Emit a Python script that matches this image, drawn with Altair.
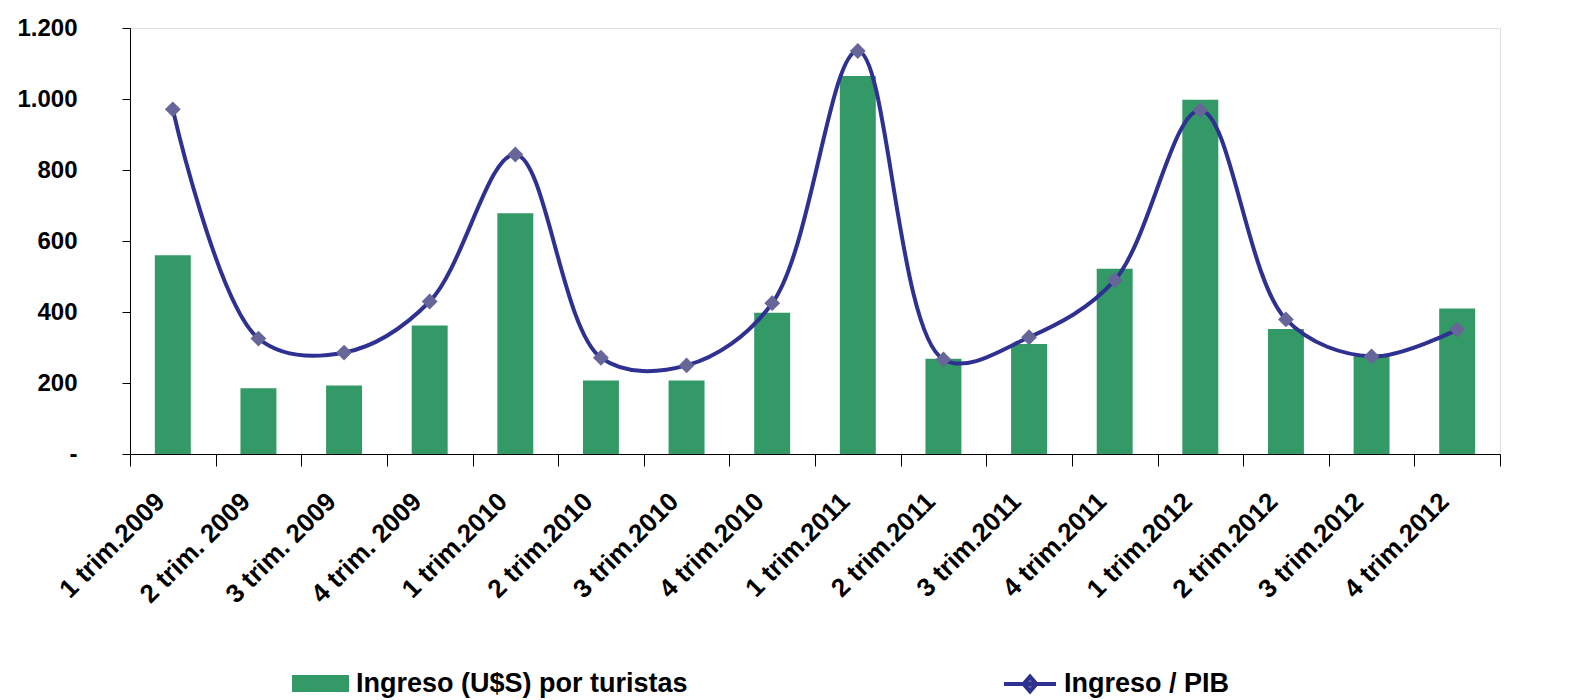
import altair as alt
import pandas as pd

categorias = ["1 trim.2009", "2 trim. 2009", "3 trim. 2009", "4 trim. 2009",
              "1 trim.2010", "2 trim.2010", "3 trim.2010", "4 trim.2010",
              "1 trim.2011", "2 trim.2011", "3 trim.2011", "4 trim.2011",
              "1 trim.2012", "2 trim.2012", "3 trim.2012", "4 trim.2012"]
ingreso = [560, 185, 193, 362, 678, 207, 207, 398, 1065, 268, 310, 522, 998, 352, 280, 410]
ingreso_pib_pct = [8.09, 2.71, 2.38, 3.58, 7.03, 2.26, 2.08, 3.54, 9.46, 2.22, 2.74, 4.08, 8.07, 3.16, 2.29, 2.92]
serie_barras = "Ingreso (U$S) por turistas"
serie_linea = "Ingreso / PIB"

df = pd.DataFrame({
    "cat": categorias,
    "ingreso": ingreso,
    "pib": [v / 100 for v in ingreso_pib_pct],
    "s1": serie_barras,
    "s2": serie_linea,
})

FONT = "Liberation Sans"

xenc = alt.X("cat:N", sort=categorias,
             scale=alt.Scale(paddingInner=0, paddingOuter=0),
             axis=alt.Axis(title=None, labelAngle=-45, labelFontSize=26, labelFontWeight="bold",
                           labelColor="black", tickBand="extent", labelPadding=22, labelOffset=-22,
                           domainColor="black", tickColor="black", tickSize=12, labelFont=FONT))

base = alt.Chart(df).encode(x=xenc)

bars = base.mark_bar(color="#339966", width=alt.RelativeBandSize(0.42)).encode(
    y=alt.Y("ingreso:Q", scale=alt.Scale(domain=[0, 1200], nice=False),
            axis=alt.Axis(title=None, values=[0, 200, 400, 600, 800, 1000, 1200], grid=False,
                          labelExpr="datum.value == 0 ? '-' : replace(format(datum.value, ','), ',', '.')",
                          labelFontSize=24, labelFontWeight="bold", labelColor="black", labelFont=FONT,
                          labelPadding=45, tickSize=8, tickColor="black", domainColor="black")),
    color=alt.Color("s1:N", scale=alt.Scale(range=["#339966"]),
                    legend=alt.Legend(title=None, orient="none", legendX=162, legendY=627,
                                      symbolType="M-1,-0.3H1V0.3H-1Z", symbolSize=3249,
                                      symbolStrokeWidth=0, padding=0,
                                      labelFontSize=27, labelFontWeight="bold", labelFont=FONT,
                                      labelColor="black", labelLimit=600, labelOffset=7)),
)

line = base.mark_line(interpolate="catmull-rom", strokeWidth=4).encode(
    y=alt.Y("pib:Q", scale=alt.Scale(domain=[0, 0.1], nice=False),
            axis=alt.Axis(title=None, orient="right", values=[0, 0.02, 0.04, 0.06, 0.08, 0.1],
                          format=".0%", grid=False, labelFontSize=24, labelFontWeight="bold",
                          labelColor="black", labelFont=FONT, labelPadding=22, tickSize=8,
                          tickColor="#808080", domainColor="#808080")),
    stroke=alt.Stroke("s2:N", scale=alt.Scale(range=["#2E3192"]),
                      legend=alt.Legend(title=None, orient="none", legendX=872, legendY=628,
                                        symbolType="M-1,0H1M0,-0.29L0.25,0L0,0.29L-0.25,0Z",
                                        symbolSize=2704, symbolStrokeWidth=4, padding=0,
                                        symbolFillColor="#666699",
                                        labelFontSize=27, labelFontWeight="bold", labelFont=FONT,
                                        labelColor="black", labelLimit=600, labelOffset=6)),
)

points = base.mark_point(shape="diamond", filled=True, size=250, color="#666699", opacity=1).encode(
    y=alt.Y("pib:Q", scale=alt.Scale(domain=[0, 0.1], nice=False), axis=None)
)

chart = alt.layer(bars, alt.layer(line, points)).resolve_scale(
    y="independent", color="independent", stroke="independent"
).properties(
    width=1370, height=426,
    padding={"left": 8, "top": 8, "right": 5, "bottom": 0},
).configure_view(stroke=None).configure(background="white")

chart.save("out.html", embed_options={"renderer": "svg", "actions": False})
